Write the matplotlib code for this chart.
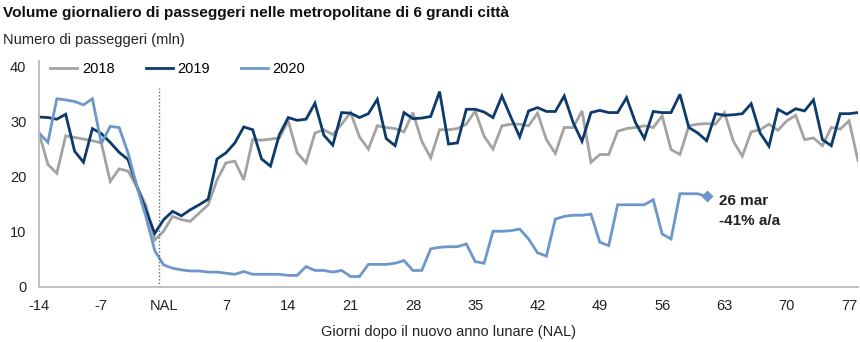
#!/usr/bin/env python3
"""Daily metro ridership in 6 large Chinese cities around the lunar new year."""
import matplotlib

matplotlib.use("Agg")
import matplotlib.pyplot as plt
import numpy as np

# days relative to lunar new year (NAL)
DAYS_START = -14
Y2018 = [27.9, 22.2, 20.6, 27.4, 27.1, 26.8, 26.5, 26.1, 19.1, 21.4, 21.0, 18.2, 14.9, 8.5,
         10.1, 12.8, 12.2, 11.9, 13.4, 14.9, 19.4, 22.5, 22.8, 19.4, 26.7, 26.6, 26.8, 27.0,
         30.1, 24.3, 22.5, 27.9, 28.5, 27.6, 29.5, 31.6, 27.2, 25.0, 29.2, 28.9, 28.7, 28.1,
         31.6, 26.4, 23.4, 28.5, 28.5, 28.7, 29.5, 31.9, 27.3, 25.0, 29.2, 29.5, 29.5, 29.2,
         31.5, 26.7, 24.2, 28.9, 28.9, 31.9, 22.6, 24.0, 24.0, 28.2, 28.7, 28.9, 29.2, 28.9,
         31.0, 24.9, 24.0, 29.2, 29.5, 29.6, 29.5, 31.6, 26.4, 23.7, 28.1, 28.5, 29.5, 28.4,
         30.1, 31.1, 26.7, 27.0, 25.6, 28.9, 28.6, 30.1, 22.9]
Y2019 = [30.8, 30.7, 30.4, 31.3, 24.6, 22.6, 28.7, 27.8, 26.2, 24.4, 23.1, 18.2, 14.0, 9.7,
         12.2, 13.7, 12.9, 14.0, 14.9, 15.9, 23.2, 24.3, 26.1, 29.0, 28.5, 23.2, 21.9, 27.6,
         30.7, 30.2, 30.4, 33.3, 27.5, 25.7, 31.6, 31.5, 30.7, 31.4, 34.0, 26.9, 25.6, 31.6,
         30.5, 30.6, 30.9, 35.4, 25.9, 26.1, 32.2, 32.2, 31.7, 30.7, 34.6, 30.8, 27.2, 31.9,
         32.5, 31.8, 31.8, 34.6, 29.8, 26.4, 31.6, 32.0, 31.6, 31.6, 34.3, 29.8, 26.9, 31.8,
         31.6, 31.6, 34.9, 28.9, 27.9, 26.5, 31.4, 31.1, 31.2, 31.4, 33.2, 27.9, 25.5, 32.2,
         31.3, 32.3, 31.9, 33.9, 26.7, 25.6, 31.4, 31.4, 31.6]
Y2020 = [27.9, 26.2, 34.1, 33.9, 33.6, 33.0, 34.1, 26.0, 29.1, 28.9, 24.3, 18.2, 12.8, 6.6,
         4.0, 3.4, 3.1, 2.9, 2.9, 2.7, 2.7, 2.5, 2.3, 2.8, 2.3, 2.3, 2.3, 2.3,
         2.1, 2.1, 3.7, 3.0, 3.0, 2.7, 3.0, 1.9, 1.9, 4.1, 4.1, 4.1, 4.3, 4.8,
         3.0, 3.0, 6.9, 7.2, 7.3, 7.3, 7.8, 4.6, 4.3, 10.1, 10.1, 10.2, 10.5, 8.7,
         6.2, 5.6, 12.3, 12.8, 13.0, 13.0, 13.2, 8.1, 7.5, 14.9, 14.9, 14.9, 14.9, 15.8,
         9.6, 8.7, 16.9, 16.9, 16.9, 16.4]
SERIES = ["2018", "2019", "2020"]
COLORS = ["#A3A3A3", "#0D3A6C", "#6D97CB"]
TICKS = [-14, -7, 0, 7, 14, 21, 28, 35, 42, 49, 56, 63, 70, 77]
TICK_LABELS = ["-14", "-7", "NAL", "7", "14", "21", "28", "35", "42", "49", "56", "63", "70", "77"]
NOTE = "26 mar\n-41% a/a"

TITLE = "Volume giornaliero di passeggeri nelle metropolitane di 6 grandi città"
YLABEL = "Numero di passeggeri (mln)"
XLABEL = "Giorni dopo il nuovo anno lunare (NAL)"


def main():
    plt.rcParams.update({
        "font.family": ["Liberation Sans", "DejaVu Sans"],
        "font.size": 10.5,
    })
    fig = plt.figure(figsize=(8.6, 3.42), dpi=100)
    ax = fig.add_axes([39 / 860, 55 / 342, 819 / 860, 226.3 / 342])

    data = [Y2018, Y2019, Y2020]
    for label, values, color in zip(SERIES, data, COLORS):
        days = np.arange(DAYS_START, DAYS_START + len(values))
        ax.plot(days, values, color=color, lw=2.0, label=label, solid_joinstyle="miter")
    days20 = np.arange(DAYS_START, DAYS_START + len(Y2020))
    ax.plot(days20[-1], Y2020[-1], marker="D", ms=6.5, color=COLORS[2], mec="none")
    ax.text(days20[-1] + 1.4, Y2020[-1] - 2.6, NOTE, fontsize=11, fontweight="bold",
            color="#222222", va="center", ha="left", linespacing=1.55)

    ax.axvline(-0.5, ymax=36 / 41, color="#666666", lw=1.0, ls=(0, (1, 1.5)))

    ax.set_xlim(-14, 78)
    ax.set_ylim(0, 41)
    ax.set_yticks([0, 10, 20, 30, 40])
    ax.set_xticks(TICKS, TICK_LABELS)
    ax.tick_params(length=0, labelsize=10.5, colors="#222222")
    ax.tick_params(axis="y", pad=9)
    ax.tick_params(axis="x", pad=9)
    for side in ["top", "right"]:
        ax.spines[side].set_visible(False)
    for side in ["left", "bottom"]:
        ax.spines[side].set_color("#BBBBBB")
        ax.spines[side].set_linewidth(1.3)

    ax.legend(loc="center left", bbox_to_anchor=(0.014, 0.962), ncol=3, frameon=False,
              fontsize=10.5, handlelength=1.85, handletextpad=0.3, columnspacing=2.15,
              borderpad=0, borderaxespad=0)

    fig.text(3 / 860, 1 - 12.5 / 342, TITLE, fontsize=11.1, fontweight="bold", va="center",
             color="#111111")
    fig.text(3 / 860, 1 - 40 / 342, YLABEL, fontsize=10.5, va="center", color="#222222")
    ax.set_xlabel(XLABEL, fontsize=10.5, color="#222222", labelpad=8)

    fig.savefig("out.png", dpi=100)
    plt.close(fig)


if __name__ == "__main__":
    main()
